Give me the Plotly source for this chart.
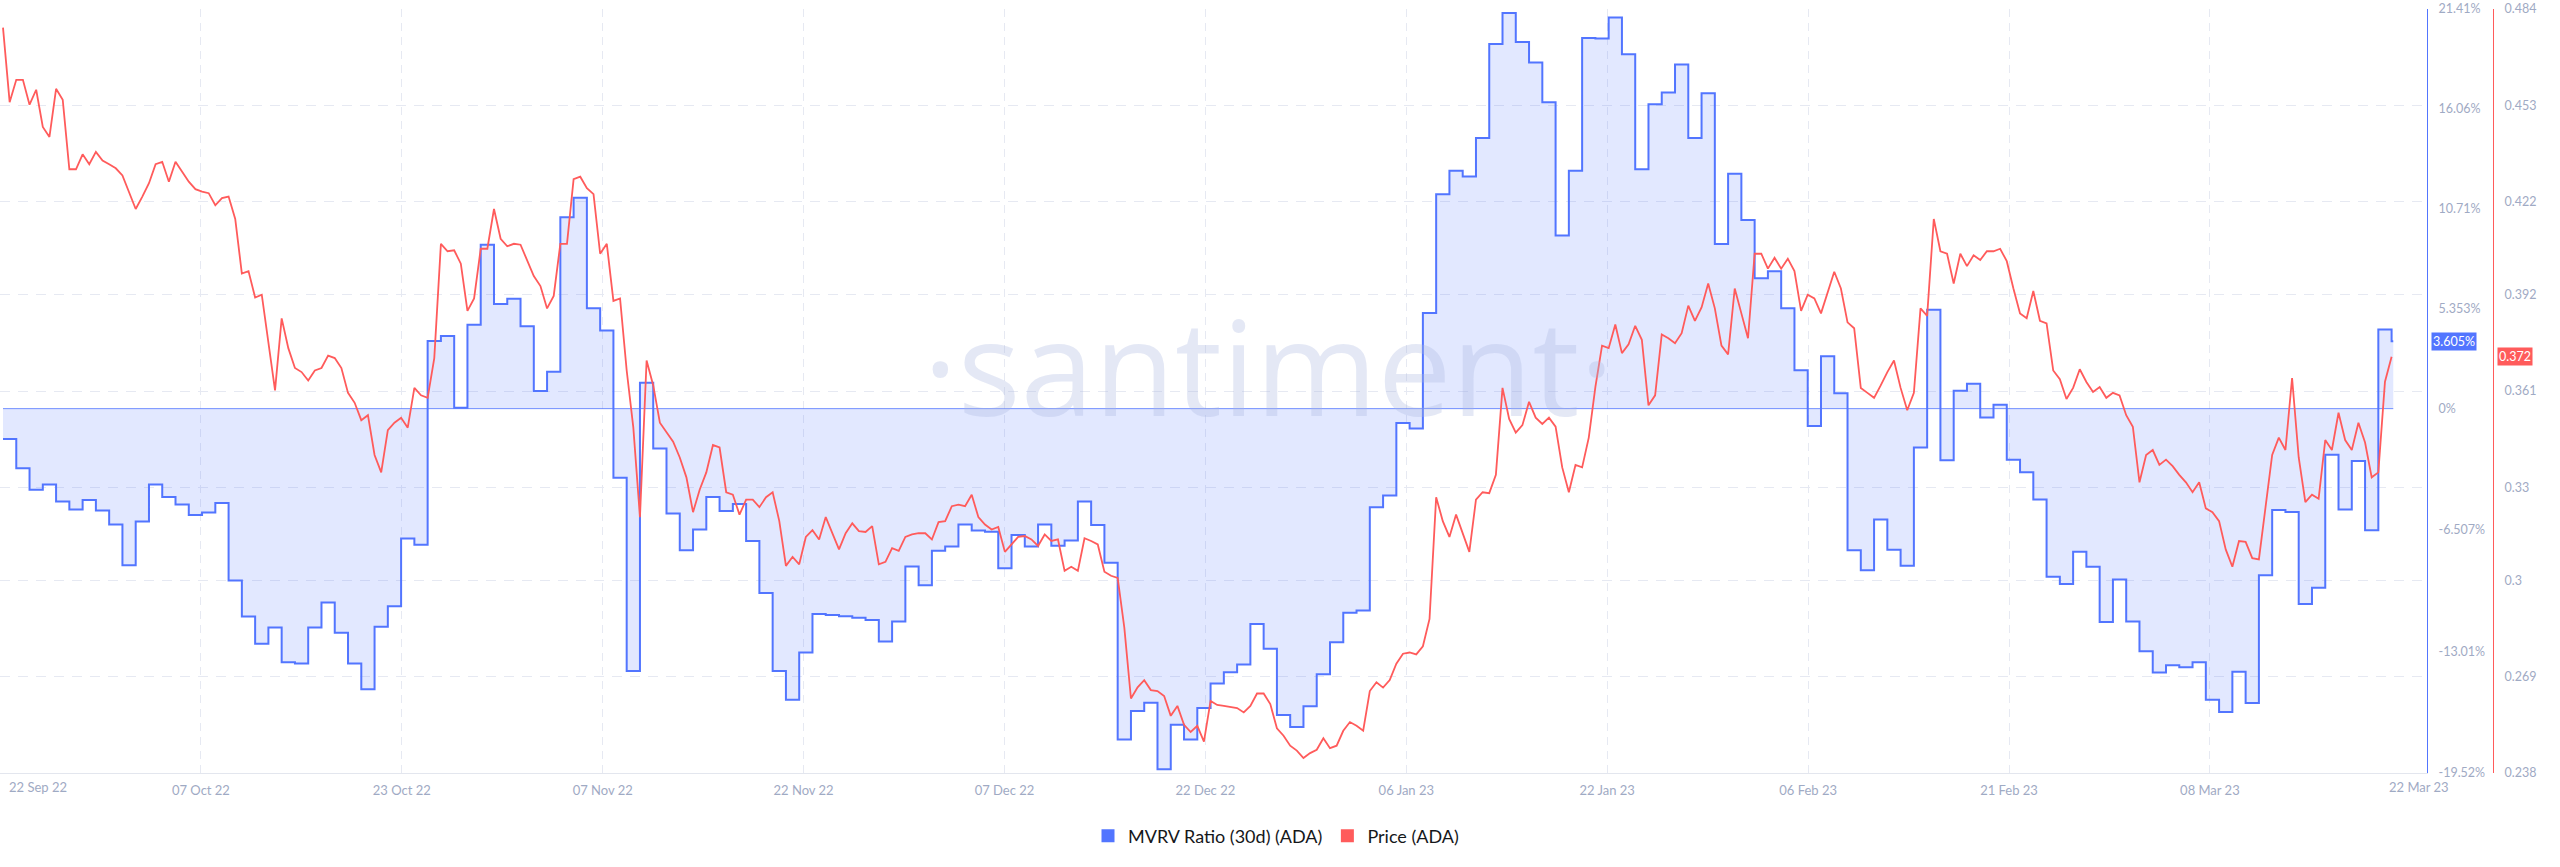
import pandas as pd
import plotly.graph_objects as go

# ---------------- data ----------------
mvrv_start = "2022-09-22"
mvrv_values = [
    -1.62, -3.20, -4.34, -4.07, -4.98, -5.41, -4.90, -5.46, -6.21, -8.39,
    -6.05, -4.07, -4.74, -5.14, -5.70, -5.57, -5.06, -9.21, -11.14, -12.59,
    -11.73, -13.59, -13.66, -11.73, -10.39, -12.00, -13.66, -15.03, -11.68, -10.58,
    -6.96, -7.29, 3.63, 3.89, 0.05, 4.50, 8.78, 5.60, 5.89, 4.42,
    0.94, 1.98, 10.26, 11.30, 5.38, 4.19, -3.70, -14.06, 1.39, -2.14,
    -5.62, -7.59, -6.48, -4.74, -5.48, -5.11, -7.09, -9.88, -14.06, -15.59,
    -13.07, -11.00, -11.05, -11.12, -11.20, -11.32, -12.47, -11.41, -8.46, -9.46,
    -7.61, -7.39, -6.21, -6.53, -6.59, -8.55, -6.77, -7.39, -6.21, -7.34,
    -7.06, -4.98, -6.23, -8.25, -17.73, -16.20, -15.75, -19.32, -16.93, -17.73,
    -16.04, -14.73, -14.12, -13.71, -11.54, -12.87, -16.41, -17.06, -15.94, -14.23,
    -12.52, -10.93, -10.82, -5.28, -4.66, -0.77, -1.07, 5.12, 11.49, 12.75,
    12.43, 14.50, 19.53, 21.19, 19.64, 18.55, 16.42, 9.28, 12.75, 19.86,
    19.83, 20.96, 18.98, 12.82, 16.31, 16.93, 18.44, 14.50, 16.90, 8.82,
    12.59, 10.10, 6.98, 7.36, 5.38, 2.06, -0.93, 2.80, 0.83, -7.59,
    -8.66, -5.94, -7.56, -8.42, -2.08, 5.30, -2.77, 0.96, 1.34, -0.48,
    0.21, -2.74, -3.41, -4.87, -9.00, -9.40, -7.67, -8.47, -11.43, -9.16,
    -11.41, -13.00, -14.14, -13.75, -13.86, -13.59, -15.59, -16.25, -14.09, -15.77,
    -8.92, -5.43, -5.54, -10.47, -9.59, -2.47, -5.41, -2.80, -6.52, 4.24,
    3.605,
]

price_start = "2022-09-22 00:00"
price_values = [
    0.4780, 0.4540, 0.4612, 0.4612, 0.4532, 0.4580, 0.4460, 0.4428, 0.4583, 0.4548,
    0.4324, 0.4324, 0.4372, 0.4340, 0.4380, 0.4352, 0.4340, 0.4327, 0.4304, 0.4252,
    0.4196, 0.4236, 0.4279, 0.4340, 0.4348, 0.4284, 0.4348, 0.4316, 0.4284, 0.4260,
    0.4252, 0.4247, 0.4208, 0.4231, 0.4236, 0.4164, 0.3988, 0.3996, 0.3911, 0.3920,
    0.3764, 0.3612, 0.3844, 0.3748, 0.3684, 0.3671, 0.3644, 0.3676, 0.3684, 0.3724,
    0.3716, 0.3684, 0.3604, 0.3572, 0.3516, 0.3532, 0.3404, 0.3348, 0.3484, 0.3508,
    0.3524, 0.3492, 0.3620, 0.3596, 0.3588, 0.3716, 0.4084, 0.4060, 0.4063, 0.4020,
    0.3868, 0.3908, 0.4068, 0.4068, 0.4196, 0.4100, 0.4076, 0.4084, 0.4081, 0.4028,
    0.3980, 0.3948, 0.3876, 0.3916, 0.4084, 0.4084, 0.4292, 0.4300, 0.4263, 0.4244,
    0.4052, 0.4084, 0.3900, 0.3908, 0.3676, 0.3492, 0.3204, 0.3708, 0.3628, 0.3508,
    0.3476, 0.3447, 0.3396, 0.3332, 0.3220, 0.3292, 0.3348, 0.3436, 0.3428, 0.3284,
    0.3276, 0.3212, 0.3260, 0.3260, 0.3236, 0.3268, 0.3284, 0.3191, 0.3047, 0.3076,
    0.3052, 0.3140, 0.3162, 0.3132, 0.3204, 0.3152, 0.3100, 0.3152, 0.3184, 0.3159,
    0.3156, 0.3175, 0.3052, 0.3060, 0.3104, 0.3095, 0.3140, 0.3148, 0.3152, 0.3152,
    0.3132, 0.3188, 0.3191, 0.3239, 0.3244, 0.3239, 0.3276, 0.3204, 0.3180, 0.3164,
    0.3172, 0.3092, 0.3116, 0.3140, 0.3143, 0.3132, 0.3111, 0.3148, 0.3127, 0.3132,
    0.3031, 0.3044, 0.3031, 0.3136, 0.3127, 0.3116, 0.3028, 0.3015, 0.3008, 0.2848,
    0.2620, 0.2656, 0.2679, 0.2647, 0.2644, 0.2628, 0.2564, 0.2596, 0.2535, 0.2512,
    0.2532, 0.2481, 0.2612, 0.2599, 0.2596, 0.2592, 0.2589, 0.2575, 0.2596, 0.2636,
    0.2636, 0.2602, 0.2524, 0.2500, 0.2468, 0.2452, 0.2428, 0.2444, 0.2455, 0.2492,
    0.2460, 0.2468, 0.2516, 0.2544, 0.2532, 0.2516, 0.2644, 0.2672, 0.2655, 0.2679,
    0.2732, 0.2764, 0.2768, 0.2762, 0.2788, 0.2876, 0.3268, 0.3191, 0.3140, 0.3212,
    0.3152, 0.3092, 0.3260, 0.3284, 0.3281, 0.3340, 0.3620, 0.3520, 0.3476, 0.3500,
    0.3575, 0.3524, 0.3504, 0.3524, 0.3495, 0.3364, 0.3284, 0.3372, 0.3364, 0.3460,
    0.3623, 0.3756, 0.3748, 0.3824, 0.3732, 0.3760, 0.3820, 0.3775, 0.3564, 0.3596,
    0.3792, 0.3780, 0.3764, 0.3796, 0.3885, 0.3836, 0.3879, 0.3956, 0.3876, 0.3756,
    0.3728, 0.3940, 0.3860, 0.3780, 0.4052, 0.4052, 0.4004, 0.4039, 0.4004, 0.4036,
    0.3996, 0.3868, 0.3920, 0.3908, 0.3860, 0.3924, 0.3994, 0.3940, 0.3831, 0.3812,
    0.3620, 0.3604, 0.3588, 0.3628, 0.3671, 0.3708, 0.3620, 0.3548, 0.3604, 0.3876,
    0.3852, 0.4164, 0.4060, 0.4052, 0.3956, 0.4052, 0.4012, 0.4047, 0.4032, 0.4060,
    0.4060, 0.4068, 0.4028, 0.3940, 0.3860, 0.3844, 0.3932, 0.3836, 0.3828, 0.3676,
    0.3648, 0.3584, 0.3620, 0.3680, 0.3639, 0.3607, 0.3623, 0.3588, 0.3604, 0.3596,
    0.3532, 0.3495, 0.3316, 0.3404, 0.3420, 0.3372, 0.3389, 0.3368, 0.3340, 0.3316,
    0.3284, 0.3316, 0.3232, 0.3220, 0.3191, 0.3100, 0.3044, 0.3127, 0.3124, 0.3072,
    0.3068, 0.3236, 0.3404, 0.3460, 0.3420, 0.3652, 0.3396, 0.3252, 0.3276, 0.3263,
    0.3452, 0.3420, 0.3540, 0.3452, 0.3420, 0.3508, 0.3444, 0.3332, 0.3348, 0.3640,
    0.3720,
]
data_end = "2023-03-21 03:00"

mvrv_ticks = [21.41, 16.06, 10.71, 5.353, 0, -6.507, -13.01, -19.52]
mvrv_tick_labels = ["21.41%", "16.06%", "10.71%", "5.353%", "0%", "-6.507%", "-13.01%", "-19.52%"]
price_ticks = [0.484, 0.453, 0.422, 0.392, 0.361, 0.33, 0.3, 0.269, 0.238]
date_labels = ["22 Sep 22", "07 Oct 22", "23 Oct 22", "07 Nov 22", "22 Nov 22", "07 Dec 22",
               "22 Dec 22", "06 Jan 23", "22 Jan 23", "06 Feb 23", "21 Feb 23", "08 Mar 23", "22 Mar 23"]
mvrv_last_label = "3.605%"
price_last_label = "0.372"

# ---------------- styling ----------------
BLUE = "#5275FF"
RED = "#FF5B5B"
TICK = "#9FAAC4"
GRID = "#E6E9F2"
FONT = "Lato"

W, H = 2560, 867
L, R, T, B = 0, 67, 9, 94
plot_w = W - L - R
plot_h = H - T - B
x_end_px = 2427
dom_end = x_end_px / plot_w


def py(y_px):
    """page pixel row -> paper y"""
    return (H - B - y_px) / plot_h


mvrv_x = list(pd.date_range(mvrv_start, periods=len(mvrv_values), freq="D")) + [pd.Timestamp(data_end)]
mvrv_y = mvrv_values + [mvrv_values[-1]]
price_x = pd.date_range(price_start, periods=len(price_values), freq="12h")

x0 = pd.Timestamp("2022-09-21 18:34")
px_per_day = 13.27
x1 = x0 + pd.Timedelta(days=x_end_px / px_per_day)
tick_step = pd.Timedelta(days=200.9 / px_per_day)
tickvals = [x0 + k * tick_step for k in range(0, 12)]
ticktext = [""] + date_labels[1:12]

fig = go.Figure()
fig.add_trace(go.Scatter(
    x=[mvrv_x[0], mvrv_x[-1]], y=[0, 0], mode="lines",
    line=dict(color=BLUE, width=1), opacity=0.8, hoverinfo="skip", showlegend=False, yaxis="y"))
fig.add_trace(go.Scatter(
    x=mvrv_x, y=mvrv_y, mode="lines", line=dict(color=BLUE, width=2, shape="hv"),
    fill="tozeroy", fillcolor="rgba(82,117,255,0.17)", name="MVRV Ratio (30d) (ADA)",
    showlegend=False, yaxis="y"))
fig.add_trace(go.Scatter(
    x=price_x, y=price_values, mode="lines", line=dict(color=RED, width=1.8),
    name="Price (ADA)", showlegend=False, yaxis="y2"))
# legend entries (square swatches)
fig.add_trace(go.Scatter(x=[None], y=[None], mode="markers", name="MVRV Ratio (30d) (ADA)",
                         marker=dict(symbol="square", size=13, color=BLUE)))
fig.add_trace(go.Scatter(x=[None], y=[None], mode="markers", name="Price (ADA)",
                         marker=dict(symbol="square", size=13, color=RED), yaxis="y2"))

fig.update_layout(
    width=W, height=H,
    margin=dict(l=L, r=R, t=T, b=B, pad=0),
    paper_bgcolor="white", plot_bgcolor="white",
    font=dict(family=FONT, size=12, color=TICK),
    xaxis=dict(
        type="date", domain=[0, dom_end], range=[x0, x1],
        tickmode="array", tickvals=tickvals, ticktext=ticktext,
        showgrid=True, gridcolor=GRID, griddash="8px,6px", gridwidth=1,
        showline=True, linecolor="#E3E6EE", linewidth=1, zeroline=False,
        ticks="", ticklabelstandoff=5, tickfont=dict(size=13, color=TICK),
    ),
    yaxis=dict(
        range=[-19.52, 21.41], side="right", anchor="x",
        tickmode="array", tickvals=mvrv_ticks, ticktext=mvrv_tick_labels,
        showgrid=False, zeroline=False, showline=True, linecolor=BLUE, linewidth=1,
        ticks="", ticklabelstandoff=8, tickfont=dict(size=12.5, color=TICK),
    ),
    yaxis2=dict(
        range=[0.238, 0.484], side="right", overlaying="y", anchor="free", position=1.0,
        tickmode="array", tickvals=price_ticks, ticktext=[f"{v:g}" for v in price_ticks],
        showgrid=True, gridcolor=GRID, griddash="10px,8px", gridwidth=1,
        zeroline=False, showline=True, linecolor=RED, linewidth=1,
        ticks="", ticklabelstandoff=8, tickfont=dict(size=12.5, color=TICK),
    ),
    legend=dict(orientation="h", x=1276 / plot_w, xanchor="center", y=py(836), yanchor="middle",
                font=dict(size=18, color="#15171A", family=FONT), itemwidth=30, tracegroupgap=0,
                bgcolor="rgba(0,0,0,0)"),
    hovermode=False,
)

annotations = [
    dict(text="·santiment·", xref="paper", yref="paper", x=1268 / plot_w, y=py(365),
         xanchor="center", yanchor="middle", showarrow=False,
         font=dict(family="Open Sans", size=132, color="rgba(170,182,225,0.32)")),
    dict(text=date_labels[0], xref="paper", yref="paper", x=7 / plot_w, y=py(787),
         xanchor="left", yanchor="middle", showarrow=False, font=dict(size=13, color=TICK)),
    dict(text=date_labels[-1], xref="paper", yref="paper", x=2419 / plot_w, y=py(787),
         xanchor="center", yanchor="middle", showarrow=False, font=dict(size=13, color=TICK)),
    dict(text=mvrv_last_label, xref="paper", yref="y", x=2431 / plot_w, y=mvrv_values[-1],
         xanchor="left", yanchor="middle", showarrow=False, bgcolor=BLUE, borderpad=1,
         font=dict(size=12.5, color="white")),
    dict(text=price_last_label, xref="paper", yref="y2", x=2497 / plot_w, y=price_values[-1],
         xanchor="left", yanchor="middle", showarrow=False, bgcolor=RED, borderpad=1,
         font=dict(size=12.5, color="white")),
]
fig.update_layout(annotations=annotations)

fig.write_html(
    "out.html",
    config={"displayModeBar": False, "staticPlot": True},
    post_script="document.body.style.margin='0';document.body.style.overflow='hidden';",
)
